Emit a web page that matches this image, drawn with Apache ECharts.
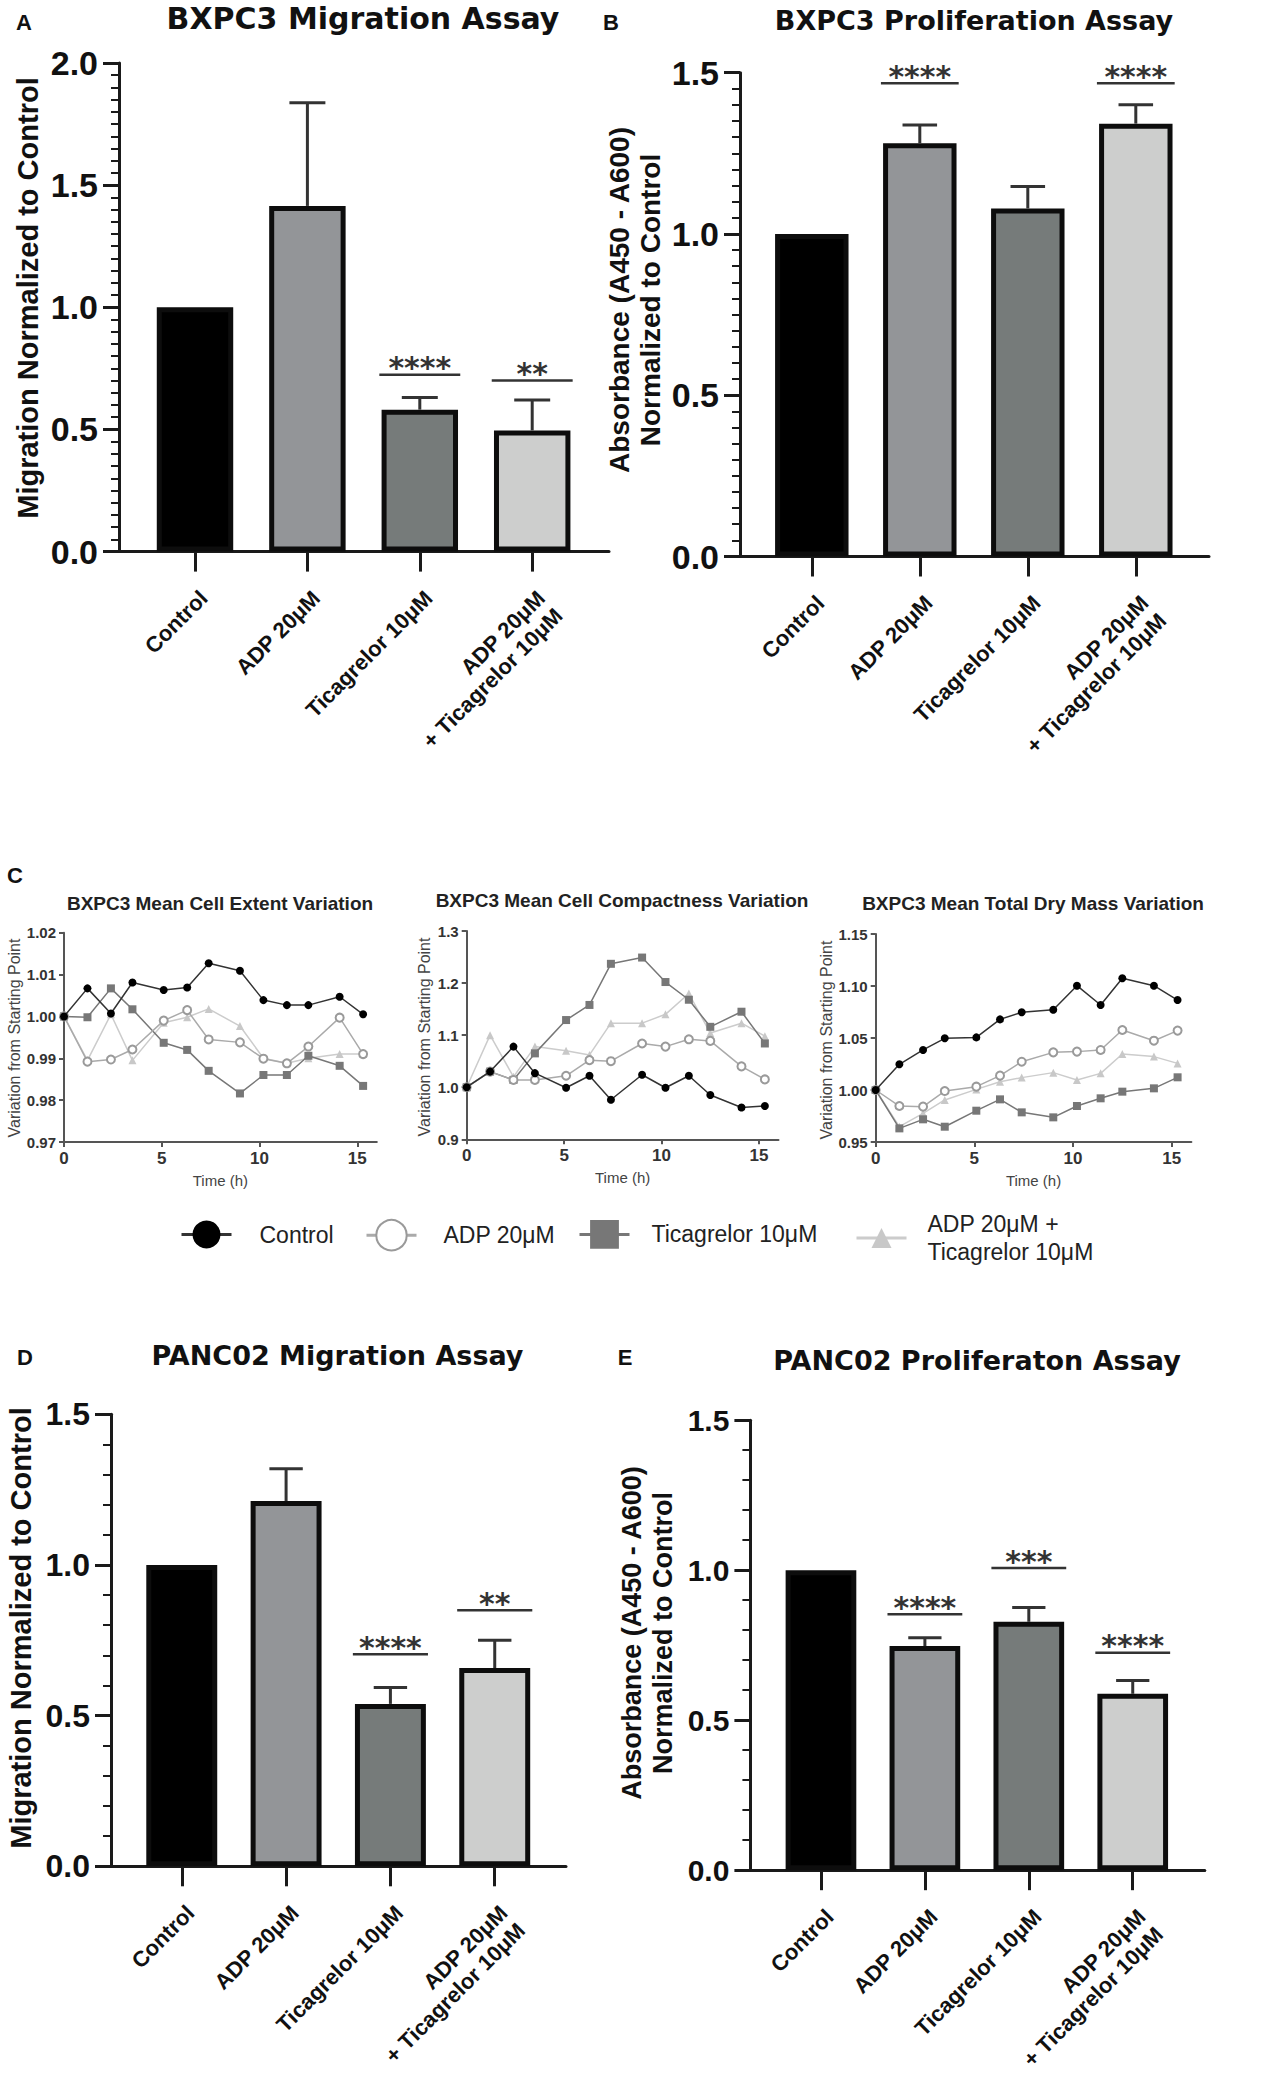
<!DOCTYPE html>
<html>
<head>
<meta charset="utf-8">
<script src="https://cdn.jsdelivr.net/npm/echarts@6/dist/echarts.min.js"></script>
<style>html,body{margin:0;padding:0;background:#fff}#chart{width:1264px;height:2079px}</style>
</head>
<body>
<div id="chart"></div>
<script>
// ---------- DATA ----------
const categories = ['Control', 'ADP 20μM', 'Ticagrelor 10μM', 'ADP 20μM\n+ Ticagrelor 10μM'];

const bxpc3MigrationMean = [1.0, 1.415, 0.581, 0.496];
const bxpc3MigrationErr  = [0, 0.422, 0.050, 0.125];
const bxpc3MigrationSig  = ['', '', '****', '**'];
const bxpc3MigrationSigY = [null, null, 0.724, 0.700];

const bxpc3ProlifMean = [1.0, 1.281, 1.079, 1.342];
const bxpc3ProlifErr  = [0, 0.057, 0.068, 0.059];
const bxpc3ProlifSig  = ['', '****', '', '****'];
const bxpc3ProlifSigY = [null, 1.467, null, 1.467];

const panc02MigrationMean = [1.0, 1.212, 0.539, 0.658];
const panc02MigrationErr  = [0, 0.107, 0.054, 0.092];
const panc02MigrationSig  = ['', '', '****', '**'];
const panc02MigrationSigY = [null, null, 0.704, 0.850];

const panc02ProlifMean = [1.0, 0.747, 0.828, 0.588];
const panc02ProlifErr  = [0, 0.028, 0.048, 0.044];
const panc02ProlifSig  = ['', '****', '***', '****'];
const panc02ProlifSigY = [null, 0.853, 1.007, 0.725];

const groupNames = ['Control', 'ADP 20μM', 'Ticagrelor 10μM', 'ADP 20μM +\nTicagrelor 10μM'];
const timeHours = [0, 1.2, 2.4, 3.5, 5.1, 6.3, 7.4, 9.0, 10.2, 11.4, 12.5, 14.1, 15.3];

const extentControl = [1.000, 1.0067, 1.0007, 1.0081, 1.0063, 1.0069, 1.0127, 1.0109, 1.0039, 1.0027, 1.0027, 1.0047, 1.0005];
const extentADP     = [1.000, 0.9892, 0.9897, 0.9921, 0.9990, 1.0015, 0.9945, 0.9938, 0.9899, 0.9888, 0.9928, 0.9997, 0.9910];
const extentTic     = [1.000, 0.9998, 1.0067, 1.0017, 0.9937, 0.9920, 0.9870, 0.9816, 0.9860, 0.9860, 0.9906, 0.9882, 0.9834];
const extentADPTic  = [1.000, 0.9895, 1.0005, 0.9895, 0.9985, 0.9998, 1.0018, 0.9977, 0.9900, 0.9888, 0.9900, 0.9910, 0.9910];

const compactControl = [1.000, 1.030, 1.078, 1.027, 0.999, 1.022, 0.976, 1.024, 0.999, 1.022, 0.985, 0.961, 0.964];
const compactADP     = [1.000, 1.030, 1.014, 1.014, 1.022, 1.052, 1.050, 1.084, 1.078, 1.092, 1.089, 1.040, 1.015];
const compactTic     = [1.000, 1.030, 1.014, 1.065, 1.129, 1.158, 1.237, 1.249, 1.202, 1.168, 1.116, 1.145, 1.084];
const compactADPTic  = [1.000, 1.100, 1.020, 1.078, 1.070, 1.062, 1.123, 1.123, 1.140, 1.180, 1.104, 1.123, 1.098];

const dryControl = [1.000, 1.0247, 1.0385, 1.0497, 1.0506, 1.0679, 1.0747, 1.0772, 1.1003, 1.0817, 1.1074, 1.1003, 1.0865];
const dryADP     = [1.000, 0.9846, 0.9840, 0.9990, 1.0032, 1.0138, 1.0272, 1.0362, 1.0369, 1.0385, 1.0577, 1.0474, 1.0571];
const dryTic     = [1.000, 0.9631, 0.9718, 0.9647, 0.9801, 0.9910, 0.9785, 0.9737, 0.9846, 0.9920, 0.9984, 1.0016, 1.0122];
const dryADPTic  = [1.000, 0.9647, 0.9776, 0.9904, 1.0006, 1.0080, 1.0119, 1.0167, 1.0096, 1.0160, 1.0346, 1.0321, 1.0256];

// ---------- STYLES ----------
const AXIS = '#1a1a1a';
const barColors = ['#000000', '#939598', '#767b7a', '#cdcecd'];
const lineStyles = [
  { symbol: 'circle', size: 8, color: '#000000', line: '#333333' },
  { symbol: 'emptyCircle', size: 8, color: '#9a9a9a', line: '#aaaaaa' },
  { symbol: 'rect', size: 8, color: '#777777', line: '#777777' },
  { symbol: 'triangle', size: 8, color: '#c8c8c8', line: '#cccccc' }
];

const grids = [], xAxes = [], yAxes = [], series = [], texts = [];

function addBarPanel(p) {
  const fi = grids.length;
  grids.push({ left: p.left, top: p.top, width: p.width, height: p.height });
  xAxes.push({ gridIndex: fi, type: 'value', min: 0, max: 1,
    axisLine: { show: true, onZero: false, lineStyle: { color: AXIS, width: 3 } },
    axisTick: { show: false }, axisLabel: { show: false }, splitLine: { show: false } });
  yAxes.push({ gridIndex: fi, type: 'value', min: 0, max: p.ymax, interval: 0.5,
    axisLine: { show: true, onZero: false, lineStyle: { color: AXIS, width: 3 } },
    axisTick: { show: true, length: 16, lineStyle: { color: AXIS, width: 3 } },
    minorTick: { show: true, splitNumber: p.minor, length: 8, lineStyle: { color: AXIS, width: 2 } },
    axisLabel: { formatter: v => v.toFixed(1), fontFamily: 'Liberation Sans', fontWeight: 'bold',
      fontSize: p.labelSize, color: '#111', margin: 21 },
    splitLine: { show: false }, minorSplitLine: { show: false } });
  const pi = grids.length;
  grids.push({ left: p.plotLeft, top: p.top, width: p.plotWidth, height: p.height });
  xAxes.push({ gridIndex: pi, type: 'category', data: categories,
    axisLine: { show: false },
    axisTick: { show: true, alignWithLabel: true, length: 20, lineStyle: { color: AXIS, width: 3 } },
    axisLabel: { interval: 0, rotate: 45, margin: 34, align: 'right', verticalAlign: 'top',
      fontFamily: 'Liberation Sans', fontWeight: 'bold', fontSize: 22, lineHeight: 25, color: '#111' },
    splitLine: { show: false } });
  yAxes.push({ gridIndex: pi, type: 'value', min: 0, max: p.ymax, show: false });
  const xi = xAxes.length - 1, yi = yAxes.length - 1;

  series.push({ type: 'bar', xAxisIndex: xi, yAxisIndex: yi, barWidth: '68%',
    data: p.mean.map((v, i) => ({ value: v, itemStyle: { color: barColors[i] } })),
    itemStyle: { borderColor: '#0d0d0d', borderWidth: 5 }, z: 2 });

  series.push({ type: 'custom', xAxisIndex: xi, yAxisIndex: yi, z: 3, clip: false,
    encode: { x: 0, y: [1, 2] },
    data: p.mean.map((m, i) => [i, m, m + p.err[i]]).filter(d => d[2] > d[1]),
    renderItem: function (params, api) {
      const x = api.value(0);
      const p0 = api.coord([x, api.value(1)]);
      const p1 = api.coord([x, api.value(2)]);
      const half = api.size([1, 0])[0] * 0.16;
      return { type: 'group', children: [
        { type: 'line', shape: { x1: p0[0], y1: p0[1], x2: p1[0], y2: p1[1] }, style: { stroke: '#333', lineWidth: 3 } },
        { type: 'line', shape: { x1: p1[0] - half, y1: p1[1], x2: p1[0] + half, y2: p1[1] }, style: { stroke: '#333', lineWidth: 3 } }
      ] };
    } });

  series.push({ type: 'custom', xAxisIndex: xi, yAxisIndex: yi, z: 4, clip: false,
    encode: { x: 0, y: 1 },
    data: p.sigY.map((y, i) => [i, y]).filter(d => d[1] != null),
    renderItem: function (params, api) {
      const idx = api.value(0);
      const pt = api.coord([idx, api.value(1)]);
      const half = api.size([1, 0])[0] * 0.36;
      return { type: 'group', children: [
        { type: 'line', shape: { x1: pt[0] - half, y1: pt[1], x2: pt[0] + half, y2: pt[1] }, style: { stroke: '#333', lineWidth: 2.5 } },
        { type: 'text', x: pt[0], y: pt[1] + 8, style: { text: p.sig[idx], font: 'bold 30px "DejaVu Sans"', fill: '#333',
          textAlign: 'center', textVerticalAlign: 'bottom' } }
      ] };
    } });

  texts.push({ type: 'text', x: p.titleX, y: p.titleY, style: { text: p.title, font: 'bold ' + p.titleSize + 'px "DejaVu Sans"', fill: '#111', textAlign: 'center', textVerticalAlign: 'middle' } });
  texts.push({ type: 'text', x: p.nameX, y: p.nameY, rotation: Math.PI / 2, style: { text: p.name, font: 'bold ' + p.nameSize + 'px "Liberation Sans"', lineHeight: 31, fill: '#111', textAlign: 'center', textVerticalAlign: 'middle' } });
  texts.push({ type: 'text', x: p.letterX, y: p.letterY, style: { text: p.letter, font: 'bold 22px "Liberation Sans"', fill: '#111', textAlign: 'center', textVerticalAlign: 'middle' } });
}

function addLinePanel(p) {
  const gi = grids.length;
  grids.push({ left: p.left, top: p.top, width: p.width, height: p.height });
  xAxes.push({ gridIndex: gi, type: 'value', min: 0, max: 16,
    axisLine: { show: true, onZero: false, lineStyle: { color: '#555', width: 2 } },
    axisTick: { show: true, customValues: [0, 5, 10, 15], length: 5, lineStyle: { color: '#555', width: 2 } },
    axisLabel: { customValues: [0, 5, 10, 15], fontFamily: 'Liberation Sans', fontWeight: 'bold', fontSize: 17, color: '#333', margin: 8 },
    splitLine: { show: false },
    name: 'Time (h)', nameLocation: 'middle', nameGap: 31,
    nameTextStyle: { fontFamily: 'Liberation Sans', fontSize: 15, color: '#444' } });
  yAxes.push({ gridIndex: gi, type: 'value', min: p.ymin, max: p.ymax, interval: p.interval,
    axisLine: { show: true, onZero: false, lineStyle: { color: '#555', width: 2 } },
    axisTick: { show: true, length: 5, lineStyle: { color: '#555', width: 2 } },
    axisLabel: { formatter: v => v.toFixed(p.decimals), fontFamily: 'Liberation Sans', fontWeight: 'bold', fontSize: 15, color: '#333', margin: 8 },
    splitLine: { show: false } });
  const xi = xAxes.length - 1, yi = yAxes.length - 1;
  [3, 2, 1, 0].forEach(k => {
    const st = lineStyles[k];
    series.push({ type: 'line', name: groupNames[k], xAxisIndex: xi, yAxisIndex: yi,
      data: timeHours.map((t, i) => [t, p.values[k][i]]),
      symbol: st.symbol, symbolSize: st.size, showAllSymbol: true,
      lineStyle: { color: st.line, width: 1.5 },
      itemStyle: { color: st.color, borderColor: st.color, borderWidth: k === 1 ? 1.8 : 0 },
      z: 3 + (3 - k) });
  });
  texts.push({ type: 'text', x: p.titleX, y: p.titleY, style: { text: p.title, font: 'bold 19px "Liberation Sans"', fill: '#222', textAlign: 'center', textVerticalAlign: 'middle' } });
  texts.push({ type: 'text', x: p.nameX, y: p.nameY, rotation: Math.PI / 2, style: { text: 'Variation from Starting Point', font: '16px "Liberation Sans"', fill: '#444', textAlign: 'center', textVerticalAlign: 'middle' } });
}

addBarPanel({ left: 119, top: 63, width: 490, height: 488.6, plotLeft: 138.8, plotWidth: 449.6, ymax: 2, minor: 10, labelSize: 34,
  mean: bxpc3MigrationMean, err: bxpc3MigrationErr, sig: bxpc3MigrationSig, sigY: bxpc3MigrationSigY,
  title: 'BXPC3 Migration Assay', titleX: 363, titleY: 18, titleSize: 30,
  name: 'Migration Normalized to Control', nameX: 28, nameY: 298, nameSize: 29,
  letter: 'A', letterX: 24, letterY: 22 });

addBarPanel({ left: 740, top: 72.7, width: 469, height: 483.8, plotLeft: 757.8, plotWidth: 432, ymax: 1.5, minor: 10, labelSize: 34,
  mean: bxpc3ProlifMean, err: bxpc3ProlifErr, sig: bxpc3ProlifSig, sigY: bxpc3ProlifSigY,
  title: 'BXPC3 Proliferation Assay', titleX: 974, titleY: 20, titleSize: 27,
  name: 'Absorbance (A450 - A600)\nNormalized to Control', nameX: 634.5, nameY: 300, nameSize: 28,
  letter: 'B', letterX: 611, letterY: 22 });

addBarPanel({ left: 111, top: 1414.3, width: 455, height: 452, plotLeft: 129.6, plotWidth: 417.3, ymax: 1.5, minor: 5, labelSize: 32,
  mean: panc02MigrationMean, err: panc02MigrationErr, sig: panc02MigrationSig, sigY: panc02MigrationSigY,
  title: 'PANC02 Migration Assay', titleX: 337.5, titleY: 1355, titleSize: 27,
  name: 'Migration Normalized to Control', nameX: 21, nameY: 1628, nameSize: 29,
  letter: 'D', letterX: 25, letterY: 1357 });

addBarPanel({ left: 750.4, top: 1420.2, width: 454.4, height: 450, plotLeft: 769, plotWidth: 415.7, ymax: 1.5, minor: 5, labelSize: 30,
  mean: panc02ProlifMean, err: panc02ProlifErr, sig: panc02ProlifSig, sigY: panc02ProlifSigY,
  title: 'PANC02 Proliferaton Assay', titleX: 977, titleY: 1360, titleSize: 27,
  name: 'Absorbance (A450 - A600)\nNormalized to Control', nameX: 647.6, nameY: 1633, nameSize: 27,
  letter: 'E', letterX: 625, letterY: 1357 });

addLinePanel({ left: 64, top: 932.7, width: 312.8, height: 209.3, ymin: 0.97, ymax: 1.02, interval: 0.01, decimals: 2,
  values: [extentControl, extentADP, extentTic, extentADPTic],
  title: 'BXPC3 Mean Cell Extent Variation', titleX: 220, titleY: 903, nameX: 14, nameY: 1038 });
addLinePanel({ left: 466.7, top: 931, width: 311.8, height: 208.3, ymin: 0.9, ymax: 1.3, interval: 0.1, decimals: 1,
  values: [compactControl, compactADP, compactTic, compactADPTic],
  title: 'BXPC3 Mean Cell Compactness Variation', titleX: 622, titleY: 900, nameX: 424, nameY: 1037 });
addLinePanel({ left: 875.7, top: 934, width: 315.7, height: 208, ymin: 0.95, ymax: 1.15, interval: 0.05, decimals: 2,
  values: [dryControl, dryADP, dryTic, dryADPTic],
  title: 'BXPC3 Mean Total Dry Mass Variation', titleX: 1033, titleY: 903, nameX: 826, nameY: 1040 });

texts.push({ type: 'text', x: 15, y: 875, style: { text: 'C', font: 'bold 22px "Liberation Sans"', fill: '#111', textAlign: 'center', textVerticalAlign: 'middle' } });

function legendAt(k, left, iconH, textPad, extra) {
  return Object.assign({ data: [groupNames[k]], left: left, top: 1238 - iconH / 2, orient: 'horizontal', padding: 0,
    itemWidth: 50, itemHeight: iconH, selectedMode: false,
    lineStyle: { width: 3 },
    textStyle: { fontFamily: 'Liberation Sans', fontSize: 23, color: '#222', lineHeight: 28, padding: [0, 0, 0, textPad] } }, extra || {});
}
const legends = [
  legendAt(0, 180, 35, 23),
  legendAt(1, 365, 38, 22, { itemStyle: { borderWidth: 4 } }),
  legendAt(2, 578, 36, 17),
  legendAt(3, 855, 25, 16, { top: 1238 - 28 })
];

const chart = echarts.init(document.getElementById('chart'), null, { renderer: 'svg' });
chart.setOption({
  animation: false,
  backgroundColor: '#ffffff',
  grid: grids,
  xAxis: xAxes,
  yAxis: yAxes,
  legend: legends,
  series: series,
  graphic: { elements: texts }
});
</script>
</body>
</html>
